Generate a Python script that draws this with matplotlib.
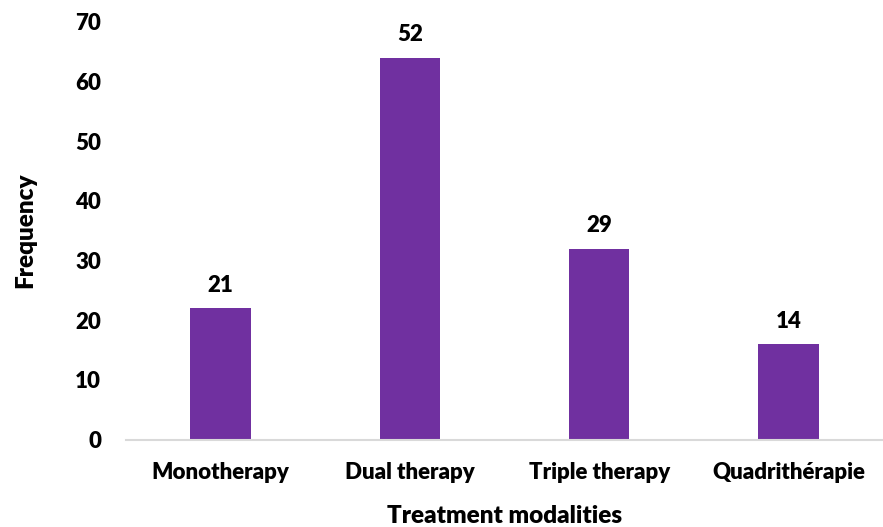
import matplotlib
matplotlib.use("Agg")
import matplotlib.pyplot as plt

categories = ["Monotherapy", "Dual therapy", "Triple therapy", "Quadrithérapie"]
bar_heights = [22, 64, 32, 16]
value_labels = ["21", "52", "29", "14"]

plt.rcParams['font.family'] = ['Lato', 'DejaVu Sans']
plt.rcParams['font.weight'] = 'bold'

fig = plt.figure(figsize=(8.83, 5.27), dpi=100)
ax = fig.add_axes([0.1427, 0.166, 0.8573, 0.7928])

x = range(len(categories))
bars = ax.bar(x, bar_heights, width=0.32, color="#7030A0")

for rect, lab in zip(bars, value_labels):
    ax.annotate(lab, (rect.get_x() + rect.get_width() / 2, rect.get_height()),
                xytext=(0, 9), textcoords="offset points",
                ha="center", va="bottom", fontsize=16, fontweight="heavy")

ax.set_xlim(-0.5, len(categories) - 0.5)
ax.set_ylim(0, 70)
ax.set_yticks(range(0, 71, 10))
ax.set_xticks(list(x))
ax.set_xticklabels(categories, fontsize=16, fontweight="heavy")
for t in ax.get_yticklabels():
    t.set_fontweight("heavy")
ax.tick_params(axis="y", labelsize=16, length=0, pad=18)
ax.tick_params(axis="x", length=0, pad=16)

for side in ["top", "right", "left"]:
    ax.spines[side].set_visible(False)
ax.spines["bottom"].set_color("#D9D9D9")
ax.spines["bottom"].set_linewidth(1.5)

ax.set_xlabel("Treatment modalities", fontsize=17.5, fontweight="heavy", labelpad=16)
ax.set_ylabel("Frequency", fontsize=17.5, fontweight="heavy", labelpad=28)

fig.savefig("out.png", dpi=100)
